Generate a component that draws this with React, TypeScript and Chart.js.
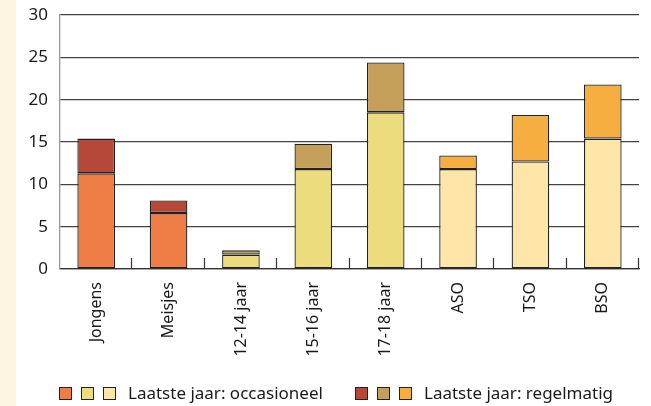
import React, { useEffect, useRef } from "react";
import { Chart, registerables } from "chart.js";

Chart.register(...registerables);

const categories = ["Jongens", "Meisjes", "12-14 jaar", "15-16 jaar", "17-18 jaar", "ASO", "TSO", "BSO"];
const occasioneel = [11.3, 6.6, 1.7, 11.8, 18.5, 11.8, 12.7, 15.4];
const regelmatig = [4.1, 1.5, 0.5, 3.0, 5.9, 1.6, 5.5, 6.4];
const occColors = ["#EE7D46", "#EE7D46", "#EDDC7D", "#EDDC7D", "#EDDC7D", "#FEE6A8", "#FEE6A8", "#FEE6A8"];
const regColors = ["#B54838", "#B54838", "#C4A05A", "#C4A05A", "#C4A05A", "#F6AE41", "#F6AE41", "#F6AE41"];
const legendLabels = ["Laatste jaar: occasioneel", "Laatste jaar: regelmatig"];
const legendOccColors = ["#EE7D46", "#EDDC7D", "#FEE6A8"];
const legendRegColors = ["#B54838", "#C4A05A", "#F6AE41"];
const yTicks = { min: 0, max: 30, step: 5 };

const FONT = "'Noto Sans', 'Open Sans', sans-serif";

const decorPlugin = {
  id: "decor",
  beforeDraw(chart: any) {
    const ctx = chart.ctx;
    ctx.save();
    ctx.fillStyle = "#FDF4E1";
    ctx.fillRect(0, 0, 16, chart.height);
    ctx.restore();
  },
  afterDraw(chart: any) {
    const ctx = chart.ctx;
    const ca = chart.chartArea;
    const n = categories.length;
    const w = (ca.right - ca.left) / n;
    ctx.save();
    ctx.strokeStyle = "#333";
    ctx.lineWidth = 1.2;
    for (let i = 1; i <= n; i++) {
      const x = Math.round(ca.left + i * w) - 0.5;
      ctx.beginPath();
      ctx.moveTo(x, ca.bottom - 11);
      ctx.lineTo(x, ca.bottom);
      ctx.stroke();
    }
    const groups = [
      { colors: legendOccColors, label: legendLabels[0], x0: 59 },
      { colors: legendRegColors, label: legendLabels[1], x0: 355 },
    ];
    const yTop = 387.5;
    const size = 12;
    const offs = [0, 22, 44];
    groups.forEach((g) => {
      g.colors.forEach((c, i) => {
        const x = g.x0 + offs[i] + 0.5;
        ctx.fillStyle = c;
        ctx.fillRect(x, yTop, size, size);
        ctx.strokeStyle = "#222";
        ctx.lineWidth = 1;
        ctx.strokeRect(x, yTop, size, size);
      });
      ctx.fillStyle = "#1a1a1a";
      ctx.font = "17px " + FONT;
      ctx.textBaseline = "middle";
      ctx.textAlign = "left";
      ctx.fillText(g.label, g.x0 + 69, yTop + size / 2 + 1);
    });
    ctx.restore();
  },
};

export default function App() {
  const ref = useRef<HTMLCanvasElement | null>(null);
  useEffect(() => {
    document.body.style.margin = "0";
    const chart = new Chart(ref.current as HTMLCanvasElement, {
      type: "bar",
      data: {
        labels: categories,
        datasets: [
          {
            label: legendLabels[0],
            data: occasioneel,
            backgroundColor: occColors,
            borderColor: "#222",
            borderWidth: 1.3,
            borderSkipped: false,
            barPercentage: 0.52,
            categoryPercentage: 1,
          },
          {
            label: legendLabels[1],
            data: regelmatig,
            backgroundColor: regColors,
            borderColor: "#222",
            borderWidth: 1.3,
            borderSkipped: false,
            barPercentage: 0.52,
            categoryPercentage: 1,
          },
        ],
      },
      options: {
        animation: false,
        responsive: true,
        maintainAspectRatio: false,
        layout: { padding: { top: 15, right: 12, bottom: 0, left: 0 } },
        plugins: { legend: { display: false }, tooltip: { enabled: false } },
        scales: {
          x: {
            stacked: true,
            afterFit: (s: any) => {
              s.height = 137;
            },
            grid: { display: false, drawTicks: false },
            border: { display: true, color: "#333", width: 1.3 },
            ticks: {
              minRotation: 90,
              maxRotation: 90,
              autoSkip: false,
              padding: 13,
              color: "#1a1a1a",
              font: { family: FONT, size: 16 },
            },
          },
          y: {
            stacked: true,
            min: yTicks.min,
            max: yTicks.max,
            afterFit: (s: any) => {
              s.width = 60;
              s.paddingTop = 0;
              s.paddingBottom = 0;
            },
            grid: { color: "#444", lineWidth: 1.2, drawTicks: false },
            border: { display: true, color: "#999", width: 1.3 },
            ticks: {
              stepSize: yTicks.step,
              padding: 12,
              color: "#1a1a1a",
              font: { family: FONT, size: 17 },
            },
          },
        },
      },
      plugins: [decorPlugin],
    });
    return () => chart.destroy();
  }, []);
  return (
    <div style={{ width: 651, height: 406, position: "relative" }}>
      <canvas ref={ref} />
    </div>
  );
}
